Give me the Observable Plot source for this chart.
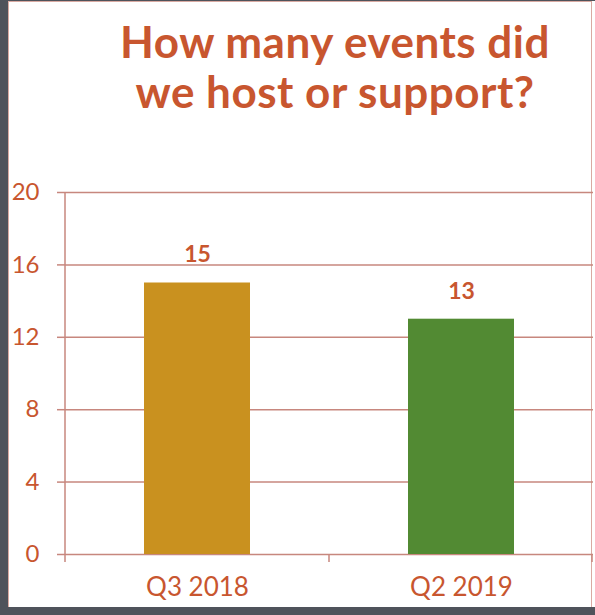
<!DOCTYPE html>
<html>
<head>
<meta charset="utf-8">
<script src="https://cdn.jsdelivr.net/npm/d3@7"></script>
<script src="https://cdn.jsdelivr.net/npm/@observablehq/plot@0.6"></script>
<style>
  html, body { margin: 0; padding: 0; }
  body { width: 595px; height: 615px; background: #4f535b; position: relative; overflow: hidden; font-family: Lato, "DejaVu Sans", sans-serif; }
  #card { position: absolute; left: 8px; top: 1px; width: 587px; height: 606px; background: #fff; }
  #edge { position: absolute; left: 8px; top: 1px; width: 584px; height: 606px; border-top: 1.5px solid #d9aaa2; border-left: 1.5px solid #d9aaa2; border-right: 1.5px solid #d9aaa2; box-sizing: border-box; }
  #title { position: absolute; left: 85px; width: 500px; top: 16px; text-align: center; color: #c8562f; font-weight: 700; font-size: 44px; line-height: 50px; letter-spacing: 0.5px; }
  #chart { position: absolute; left: 8px; top: 150px; }
</style>
</head>
<body>
<div id="card"></div>
<div id="edge"></div>
<div id="title">How many events did<br>we host or support?</div>
<div id="chart"></div>
<script>
const categories = ["Q3 2018", "Q2 2019"];
const values = [15, 13];
const barColors = ["#c9911f", "#528a33"];
const yTicks = [0, 4, 8, 12, 16, 20];

const data = categories.map((c, i) => ({category: c, value: values[i], color: barColors[i]}));
const lineColor = "#c7877e";
const textColor = "#c8562f";

const chart = Plot.plot({
  width: 587,
  height: 457,
  marginTop: 42,
  marginBottom: 53,
  marginLeft: 57,
  marginRight: 2,
  style: {background: "transparent", fontFamily: "Lato, sans-serif"},
  x: {domain: categories, paddingInner: 0.6, paddingOuter: 0.3, label: null},
  y: {domain: [0, 20], label: null},
  marks: [
    Plot.gridY(yTicks, {stroke: lineColor, strokeOpacity: 1, strokeWidth: 1.5}),
    Plot.axisY(yTicks, {tickSize: 8, tickPadding: 18, stroke: lineColor, strokeWidth: 1.5, fill: textColor, fontSize: 24, label: null}),
    Plot.axisX({tickSize: 0, tickPadding: 23, fill: textColor, fontSize: 26, label: null}),
    Plot.barY(data, {x: "category", y: "value", fill: "color"}),
    Plot.text(data, {x: "category", y: "value", text: d => String(d.value), dy: -28, fill: textColor, fontSize: 23, fontWeight: 700})
  ]
});
document.getElementById("chart").appendChild(chart);

// axis decorations drawn from the chart's own scales
const xs = chart.scale("x");
const ys = chart.scale("y");
const svg = d3.select(chart);
const y0 = ys.apply(0), y20 = ys.apply(20);
const left = xs.range[0], right = xs.range[1];
const g = svg.append("g").attr("stroke", lineColor).attr("stroke-width", 1.5);
g.append("line").attr("x1", left).attr("x2", left).attr("y1", y20).attr("y2", y0 + 8);
const bounds = [];
categories.forEach((c, i) => {
  if (i > 0) bounds.push((xs.apply(categories[i - 1]) + xs.bandwidth + xs.apply(c)) / 2);
});
bounds.push(right - 1);
bounds.forEach(b => g.append("line").attr("x1", b).attr("x2", b).attr("y1", y0).attr("y2", y0 + 8));
</script>
</body>
</html>
